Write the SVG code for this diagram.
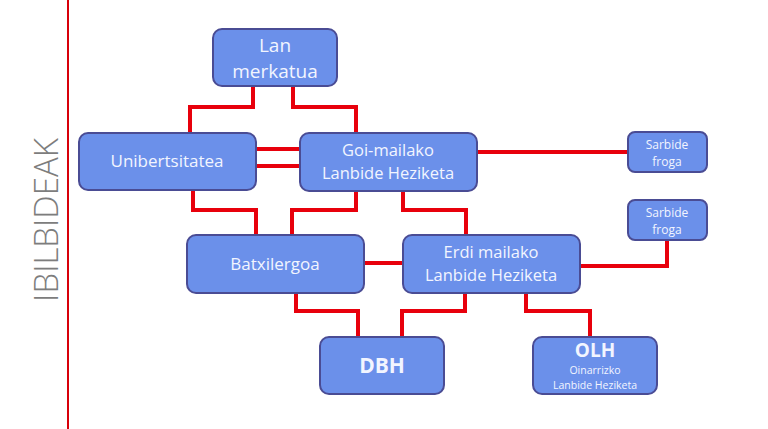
<svg xmlns="http://www.w3.org/2000/svg" width="768" height="429" viewBox="0 0 768 429">
<style>
.box{fill:#6b90ea;stroke:#4a4c94;stroke-width:2}
.t{font-family:"Open Sans","Liberation Sans",sans-serif;fill:#f2f5ff;text-anchor:middle}
.c{fill:none;stroke:#e8000c;stroke-width:4;stroke-linejoin:miter}
</style>
<rect width="768" height="429" fill="#ffffff"/>
<line x1="68" y1="0" x2="68" y2="429" stroke="#d8000a" stroke-width="2"/>
<text x="0" y="0" transform="translate(58,220) rotate(-90)" font-family="'Open Sans','Liberation Sans',sans-serif" font-size="33" fill="#7d7d7d" text-anchor="middle" font-weight="300">IBILBIDEAK</text>
<g id="connectors">
<polyline class="c" points="253,86 253,107 190,107 190,133"/>
<polyline class="c" points="293,86 293,107 356,107 356,133"/>
<line class="c" x1="256" y1="149" x2="300" y2="149"/>
<line class="c" x1="256" y1="166" x2="300" y2="166"/>
<line class="c" x1="477" y1="152" x2="628" y2="152"/>
<polyline class="c" points="193,190 193,210 256,210 256,235"/>
<polyline class="c" points="356,191 356,210 292,210 292,235"/>
<polyline class="c" points="403,191 403,210 466,210 466,235"/>
<line class="c" x1="364" y1="263" x2="403" y2="263"/>
<polyline class="c" points="580,266 667,266 667,240"/>
<polyline class="c" points="296,293 296,311 358,311 358,337"/>
<polyline class="c" points="465,293 465,311 402,311 402,337"/>
<polyline class="c" points="526,293 526,311 590,311 590,337"/>
</g>
<g id="lan-merkatua">
<rect class="box" x="213" y="29" width="124" height="57" rx="9"/>
<text class="t" x="275" y="52" font-size="19">Lan</text>
<text class="t" x="275" y="78" font-size="19">merkatua</text>
</g>
<g id="unibertsitatea">
<rect class="box" x="79" y="133" width="177" height="57" rx="9"/>
<text class="t" x="167" y="167" font-size="17">Unibertsitatea</text>
</g>
<g id="goi-mailako">
<rect class="box" x="300" y="133" width="177" height="58" rx="9"/>
<text class="t" x="388" y="156" font-size="16.5">Goi-mailako</text>
<text class="t" x="388" y="178.5" font-size="16.5">Lanbide Heziketa</text>
</g>
<g id="sarbide-1">
<rect class="box" x="628" y="132" width="79" height="40" rx="7"/>
<text class="t" x="667" y="149" font-size="12">Sarbide</text>
<text class="t" x="667" y="165.5" font-size="12">froga</text>
</g>
<g id="sarbide-2">
<rect class="box" x="628" y="200" width="79" height="40" rx="7"/>
<text class="t" x="667" y="217" font-size="12">Sarbide</text>
<text class="t" x="667" y="233.5" font-size="12">froga</text>
</g>
<g id="batxilergoa">
<rect class="box" x="187" y="235" width="177" height="58" rx="9"/>
<text class="t" x="275" y="270" font-size="17">Batxilergoa</text>
</g>
<g id="erdi-mailako">
<rect class="box" x="403" y="235" width="177" height="58" rx="9"/>
<text class="t" x="491" y="258" font-size="16.5">Erdi mailako</text>
<text class="t" x="491" y="280.5" font-size="16.5">Lanbide Heziketa</text>
</g>
<g id="dbh">
<rect class="box" x="320" y="337" width="124" height="57" rx="9"/>
<text class="t" x="382" y="373" font-size="21" font-weight="bold">DBH</text>
</g>
<g id="olh">
<rect class="box" x="533" y="337" width="124" height="57" rx="9"/>
<text class="t" x="595" y="357" font-size="19" font-weight="bold">OLH</text>
<text class="t" x="595" y="374" font-size="10.5">Oinarrizko</text>
<text class="t" x="595" y="389" font-size="10.5">Lanbide Heziketa</text>
</g>
</svg>
